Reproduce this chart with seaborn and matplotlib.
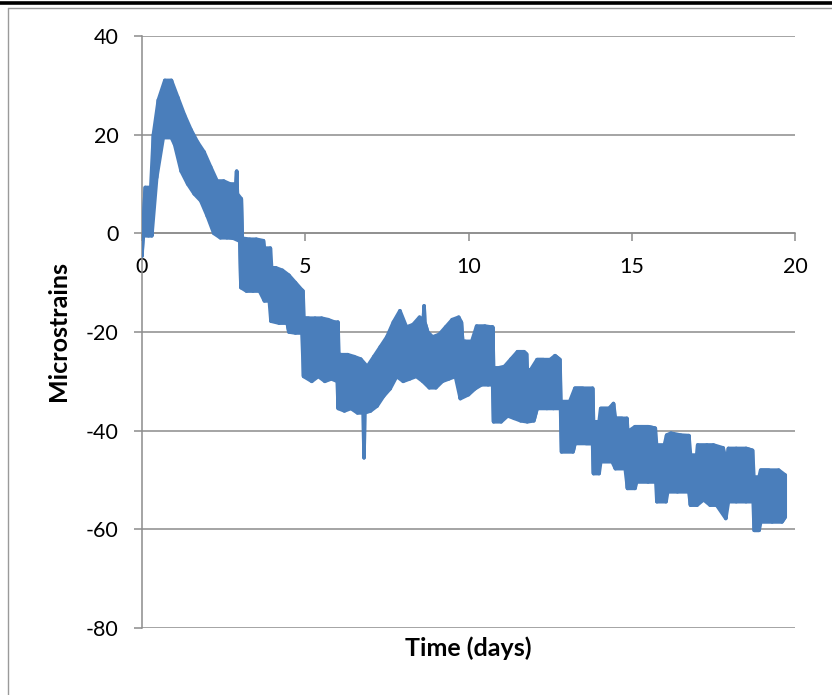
import matplotlib
matplotlib.use('Agg')
import matplotlib.pyplot as plt
import seaborn as sns
import pandas as pd
from matplotlib.lines import Line2D

# Upper swings of the strain record (day, microstrain)
peak_day = [
    0.1, 0.27, 0.35, 0.5, 0.7, 0.9, 1.1, 1.3, 1.5, 1.7,
    1.9, 2.1, 2.3, 2.5, 2.7, 2.88, 2.9, 2.92, 3.04, 3.07,
    3.3, 3.5, 3.72, 3.75, 3.93, 3.97, 4.1, 4.3, 4.5, 4.7,
    4.9, 4.93, 4.96, 5.1, 5.3, 5.5, 5.7, 5.9, 6.0, 6.03,
    6.1, 6.3, 6.5, 6.7, 6.9, 7.1, 7.3, 7.5, 7.7, 7.9,
    8.1, 8.3, 8.5, 8.62, 8.64, 8.66, 8.75, 8.9, 9.1, 9.3,
    9.5, 9.7, 9.78, 9.82, 9.9, 10.1, 10.25, 10.5, 10.7, 10.74,
    10.77, 10.9, 11.1, 11.3, 11.5, 11.7, 11.78, 11.8, 11.9, 12.1,
    12.3, 12.5, 12.65, 12.8, 12.83, 13.1, 13.26, 13.5, 13.8, 13.83,
    14.0, 14.05, 14.3, 14.44, 14.5, 14.7, 14.85, 14.88, 15.1, 15.3,
    15.5, 15.72, 15.76, 16.0, 16.07, 16.2, 16.5, 16.75, 16.8, 16.99,
    17.02, 17.3, 17.5, 17.8, 17.9, 17.96, 18.2, 18.5, 18.7, 18.74,
    18.9, 18.95, 19.2, 19.5, 19.7,
]
peak_strain = [
    9.3, 9.3, 20.0, 27.0, 31.0, 31.0, 27.5, 24.0, 21.0, 18.5,
    16.5, 13.5, 10.6, 10.6, 10.0, 10.0, 12.6, 8.0, 7.0, -1.0,
    -1.2, -1.2, -1.5, -3.0, -3.0, -7.0, -7.0, -7.5, -8.5, -10.0,
    -11.5, -11.7, -17.2, -17.2, -17.2, -17.2, -17.5, -18.0, -18.0, -24.6,
    -24.6, -24.6, -25.0, -25.5, -27.0, -25.0, -23.0, -21.0, -18.0, -15.7,
    -19.0, -18.5, -17.0, -17.5, -14.7, -18.0, -20.0, -21.0, -20.5, -19.0,
    -17.5, -17.0, -18.0, -21.9, -21.9, -21.9, -18.8, -18.8, -19.0, -19.0,
    -27.3, -27.3, -27.0, -25.5, -24.0, -24.0, -24.5, -27.7, -27.7, -25.6,
    -25.6, -25.6, -24.8, -25.6, -34.1, -34.1, -31.4, -31.4, -31.4, -38.2,
    -38.2, -35.5, -35.5, -34.5, -37.5, -37.5, -37.5, -40.2, -39.2, -39.2,
    -39.2, -39.5, -42.9, -42.9, -40.9, -40.5, -40.9, -41.0, -45.0, -45.0,
    -42.9, -42.9, -42.9, -43.5, -46.3, -43.6, -43.6, -43.6, -44.0, -49.4,
    -49.4, -48.0, -48.0, -48.0, -49.0,
]
# Lower swings of the strain record (day, microstrain)
trough_day = [
    0.0, 0.02, 0.2, 0.3, 0.45, 0.65, 0.9, 1.0, 1.2, 1.4,
    1.6, 1.8, 2.0, 2.2, 2.4, 2.6, 2.8, 3.0, 3.03, 3.2,
    3.4, 3.6, 3.75, 3.9, 3.95, 4.2, 4.45, 4.5, 4.7, 4.9,
    4.95, 5.2, 5.4, 5.6, 5.8, 5.98, 6.01, 6.2, 6.4, 6.6,
    6.78, 6.8, 6.82, 7.0, 7.2, 7.4, 7.6, 7.8, 8.0, 8.2,
    8.4, 8.6, 8.8, 9.0, 9.2, 9.4, 9.6, 9.75, 10.0, 10.2,
    10.4, 10.6, 10.74, 10.77, 11.0, 11.2, 11.4, 11.6, 11.8, 12.0,
    12.1, 12.4, 12.6, 12.82, 12.85, 13.2, 13.26, 13.6, 13.8, 13.83,
    14.0, 14.05, 14.4, 14.5, 14.8, 14.87, 15.1, 15.15, 15.5, 15.74,
    15.77, 16.05, 16.1, 16.4, 16.75, 16.8, 17.0, 17.2, 17.4, 17.6,
    17.88, 17.96, 18.2, 18.5, 18.72, 18.75, 18.9, 18.95, 19.3, 19.6,
    19.7,
]
trough_strain = [
    -4.6, -0.5, -0.5, -0.5, 11.3, 19.4, 19.4, 18.0, 12.6, 10.0,
    8.0, 6.6, 3.5, 0.0, -0.9, -0.9, -1.0, -1.6, -11.0, -11.7,
    -11.7, -11.7, -13.7, -13.7, -17.8, -18.2, -18.2, -20.0, -20.2, -20.2,
    -29.0, -30.0, -29.0, -30.0, -29.5, -30.0, -35.5, -36.0, -35.5, -36.4,
    -36.4, -45.5, -36.4, -36.0, -35.0, -33.0, -31.5, -29.0, -30.0, -29.5,
    -29.0, -30.0, -31.3, -31.3, -30.0, -29.5, -29.0, -33.5, -32.7, -31.5,
    -30.7, -30.7, -30.7, -38.2, -38.2, -37.0, -37.5, -38.0, -38.2, -38.0,
    -35.5, -35.5, -35.5, -35.5, -44.3, -44.3, -42.6, -42.6, -42.6, -48.7,
    -48.7, -46.3, -46.3, -47.7, -47.7, -51.7, -51.7, -50.4, -50.4, -50.4,
    -54.4, -54.4, -52.4, -52.4, -52.4, -55.1, -55.1, -54.0, -55.1, -55.1,
    -57.8, -54.4, -54.4, -54.4, -54.4, -60.2, -60.2, -58.5, -58.5, -58.5,
    -57.5,
]
x_ticks = [0, 5, 10, 15, 20]
y_ticks = [-80, -60, -40, -20, 0, 20, 40]
x_title = 'Time (days)'
y_title = 'Microstrains'

sns.set_theme(style='white')
plt.rcParams['font.family'] = ['Lato', 'DejaVu Sans']

W, H = 832, 695
BLUE = '#4A7EBB'
fig = plt.figure(figsize=(W / 100, H / 100), dpi=100)
fig.patch.set_facecolor('white')
ax = fig.add_axes([142 / W, 1 - 628 / H, (795 - 142) / W, (628 - 36) / H])
ax.set_facecolor('white')

df = pd.DataFrame({'day': peak_day + trough_day,
                   'microstrains': peak_strain + trough_strain})
sns.lineplot(data=df, x='day', y='microstrains', sort=True, estimator=None,
             color=BLUE, ax=ax, zorder=3)
for ln in ax.lines:
    ln.set_linewidth(2.6)
    ln.set_solid_joinstyle('round')
    ln.set_solid_capstyle('round')
# the dense oscillation between the swings fills the band
ax.fill(peak_day + trough_day[::-1], peak_strain + trough_strain[::-1],
        facecolor=BLUE, edgecolor=BLUE, linewidth=2.6, joinstyle='round', zorder=3)

ax.set_xlim(0, 20)
ax.set_ylim(-80, 40)
ax.set_xticks(x_ticks)
ax.set_yticks(y_ticks)
ax.set_xticklabels([str(v) for v in x_ticks])
ax.set_yticklabels([str(v) for v in y_ticks])
grid_c = '#8c8c8c'
ax.grid(axis='y', color=grid_c, linewidth=1.1)
ax.grid(axis='x', visible=False)
ax.set_axisbelow(True)
for s in ['top', 'right']:
    ax.spines[s].set_visible(False)
ax.spines['bottom'].set_position(('data', 0))
for s in ['left', 'bottom']:
    ax.spines[s].set_color(grid_c)
    ax.spines[s].set_linewidth(1.1)
ax.tick_params(axis='both', direction='out', length=6, width=1.1, color=grid_c,
               labelsize=15.5, labelcolor='black')
ax.tick_params(axis='y', pad=11, left=True)
ax.tick_params(axis='x', pad=11, bottom=True)
ax.set_xlabel('')
ax.set_ylabel('')

fig.text(59 / W, 1 - 331 / H, y_title, rotation=90, ha='center', va='center',
         fontsize=18, fontweight='bold', color='black')
fig.text(468 / W, 1 - 648 / H, x_title, ha='center', va='center',
         fontsize=18, fontweight='bold', color='black')

# outer frame pieces
fig.add_artist(Line2D([0, 1], [1 - 3 / H, 1 - 3 / H], transform=fig.transFigure,
                      color='black', linewidth=2.6))
fig.add_artist(Line2D([8 / W, 1], [1 - 8 / H, 1 - 8 / H], transform=fig.transFigure,
                      color='#9a9a9a', linewidth=1.0))
fig.add_artist(Line2D([8 / W, 8 / W], [0, 1 - 8 / H], transform=fig.transFigure,
                      color='#9a9a9a', linewidth=1.0))

fig.savefig('out.png', dpi=100)
